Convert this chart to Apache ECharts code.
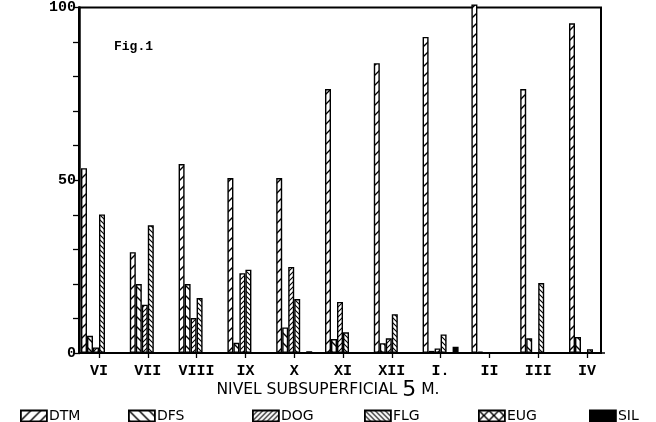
<!DOCTYPE html>
<html>
<head>
<meta charset="utf-8">
<script src="https://cdn.jsdelivr.net/npm/echarts@6/dist/echarts.min.js"></script>
<style>
html,body{margin:0;padding:0;background:#fff;}
#chart{width:656px;height:422px;}
</style>
</head>
<body>
<div id="chart"></div>
<script>
// ---- data ----
var categories = ['VI', 'VII', 'VIII', 'IX', 'X', 'XI', 'XII', 'I.', 'II', 'III', 'IV'];
var seriesNames = ['DTM', 'DFS', 'DOG', 'FLG', 'EUG', 'SIL'];
var DTM = [52.8, 28.8, 54, 50, 50, 75.4, 82.8, 90.3, 99.6, 75.4, 94.2];
var DFS = [4.9, 19.7, 19.7, 2.9, 7.3, 4, 2.8, 0.6, 0.4, 4.2, 4.6];
var DOG = [1.6, 13.8, 10, 22.8, 24.6, 14.6, 4.2, 1.3, 0, 0, 0];
var FLG = [39.6, 36.5, 15.7, 23.8, 15.4, 5.9, 11.1, 5.3, 0, 20, 1.1];
var EUG = [0, 0, 0, 0, 0, 0, 0, 0, 0, 0, 0];
var SIL = [0, 0, 0, 0, 0.5, 0, 0, 1.8, 0, 0, 0];
var yTickValues = [0, 50, 100];
var values = [DTM, DFS, DOG, FLG, EUG, SIL];

// ---- hatch patterns ----
function makePattern(kind) {
  if (kind === 'solid') return '#000';
  var s = (kind === 'wideF' || kind === 'wideB' || kind === 'cross') ? 10 : 5;
  var c = document.createElement('canvas');
  c.width = s; c.height = s;
  var g = c.getContext('2d');
  g.fillStyle = '#fff'; g.fillRect(0, 0, s, s);
  g.strokeStyle = '#000';
  g.lineWidth = s === 10 ? 1.4 : 1.1;
  function fwd() {
    g.beginPath();
    g.moveTo(0, s); g.lineTo(s, 0);
    g.moveTo(-1, 1); g.lineTo(1, -1);
    g.moveTo(s - 1, s + 1); g.lineTo(s + 1, s - 1);
    g.stroke();
  }
  function bwd() {
    g.beginPath();
    g.moveTo(0, 0); g.lineTo(s, s);
    g.moveTo(-1, s - 1); g.lineTo(1, s + 1);
    g.moveTo(s - 1, -1); g.lineTo(s + 1, 1);
    g.stroke();
  }
  if (kind === 'wideF' || kind === 'denseF' || kind === 'cross') fwd();
  if (kind === 'wideB' || kind === 'denseB' || kind === 'cross') bwd();
  return { image: c, repeat: 'repeat' };
}
var patternKinds = ['wideF', 'wideB', 'denseF', 'denseB', 'cross', 'solid'];

var chart = echarts.init(document.getElementById('chart'), null, { renderer: 'canvas' });

var series = seriesNames.map(function (name, i) {
  return {
    name: name,
    type: 'bar',
    xAxisIndex: 0,
    yAxisIndex: 1,
    data: values[i],
    barWidth: 6,
    barGap: '0%',
    itemStyle: {
      color: makePattern(patternKinds[i]),
      borderColor: '#000',
      borderWidth: 1.4
    },
    emphasis: { disabled: true }
  };
});

var legendLeft = [15, 123, 247, 359, 473, 584];
var legends = seriesNames.map(function (name, i) {
  return {
    data: [name],
    left: legendLeft[i],
    top: 404,
    icon: 'rect',
    itemWidth: 26,
    itemHeight: 11,
    itemGap: 0,
    selectedMode: false,
    itemStyle: { borderWidth: 1.8, borderColor: '#000' },
    textStyle: { fontFamily: 'DejaVu Sans', fontSize: 14, color: '#000', padding: [2, 0, 0, -3] }
  };
});

var option = {
  animation: false,
  backgroundColor: '#fff',
  title: {
    text: '{a|NIVEL SUBSUPERFICIAL }{b|5}{a| M.}',
    left: 'center',
    top: 374,
    itemGap: 0,
    textStyle: {
      fontWeight: 'normal',
      rich: {
        a: { fontFamily: 'DejaVu Sans', fontSize: 15.5, fontWeight: 'normal', color: '#000' },
        b: { fontFamily: 'DejaVu Sans', fontSize: 22, fontWeight: 'normal', color: '#000' }
      }
    }
  },
  legend: legends,
  grid: [
    { left: 74.6, right: 44.6, top: 3, bottom: 69 },
    { left: 79, right: 55, top: 3, bottom: 69, show: true, borderColor: '#000', borderWidth: 2, backgroundColor: 'transparent', z: 0 }
  ],
  xAxis: [
    {
      type: 'category',
      gridIndex: 0,
      data: categories,
      axisLine: { show: false },
      axisTick: { show: true, alignWithLabel: true, length: 5, lineStyle: { color: '#000', width: 1.3 } },
      axisLabel: { margin: 11, fontFamily: 'Liberation Mono', fontWeight: 'bold', fontSize: 15, color: '#000' }
    },
    { type: 'value', gridIndex: 1, min: 0, max: 1, show: false }
  ],
  yAxis: [
    {
      type: 'value',
      gridIndex: 1,
      min: 0,
      max: 100,
      interval: 10,
      axisLine: { show: true, lineStyle: { color: '#000', width: 2.5 } },
      axisTick: { show: true, length: 6, lineStyle: { color: '#000', width: 1.3 } },
      splitLine: { show: false },
      axisLabel: {
        margin: 3,
        fontFamily: 'Liberation Mono',
        fontWeight: 'bold',
        fontSize: 15,
        color: '#000',
        formatter: function (v) { return yTickValues.indexOf(v) >= 0 ? String(v) : ''; }
      }
    },
    { type: 'value', gridIndex: 0, min: 0, max: 100, interval: 10, show: false }
  ],
  graphic: [
    {
      type: 'text',
      left: 114,
      top: 40,
      style: { text: 'Fig.1', fontFamily: 'Liberation Mono', fontWeight: 'bold', fontSize: 13, fill: '#000' }
    }
  ],
  series: series
};
chart.setOption(option);
</script>
</body>
</html>
